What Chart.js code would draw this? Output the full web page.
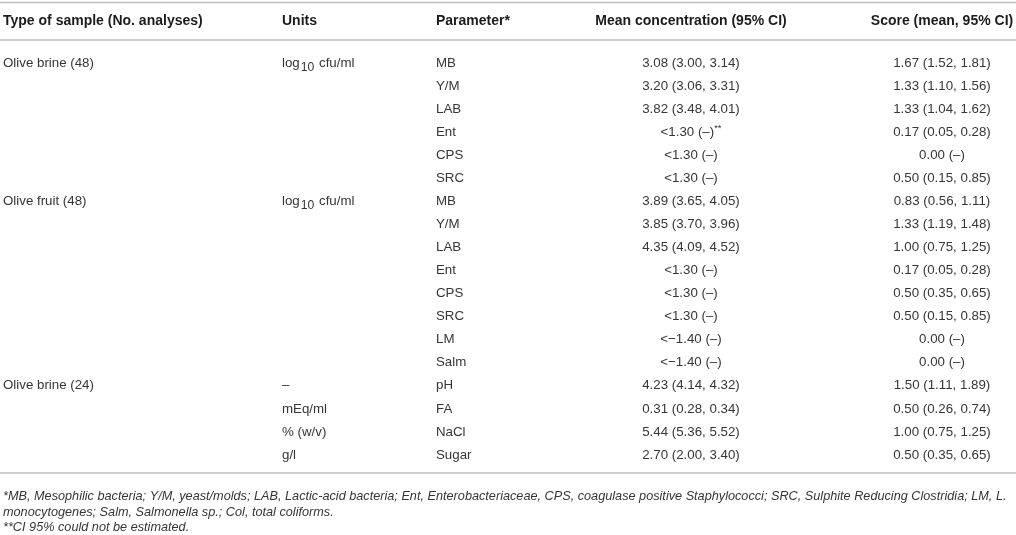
<!DOCTYPE html>
<html><head><meta charset="utf-8">
<script src="https://cdn.jsdelivr.net/npm/chart.js@4.4.0/dist/chart.umd.min.js"></script>
<style>html,body{margin:0;padding:0;background:#fff;overflow:hidden}canvas{display:block}</style>
</head><body>
<canvas id="c" width="1016" height="535" style="width:1016px;height:535px"></canvas>
<script>
// ---- DATA ----
const headers = ["Type of sample (No. analyses)", "Units", "Parameter*", "Mean concentration (95% CI)", "Score (mean, 95% CI)"];
const sampleTypes = ["Olive brine (48)", "", "", "", "", "",
  "Olive fruit (48)", "", "", "", "", "", "", "",
  "Olive brine (24)", "", "", ""];
const units = ["log_{10} cfu/ml", "", "", "", "", "",
  "log_{10} cfu/ml", "", "", "", "", "", "", "",
  "–", "mEq/ml", "% (w/v)", "g/l"];
const parameters = ["MB", "Y/M", "LAB", "Ent", "CPS", "SRC",
  "MB", "Y/M", "LAB", "Ent", "CPS", "SRC", "LM", "Salm",
  "pH", "FA", "NaCl", "Sugar"];
const meanConcentration = ["3.08 (3.00, 3.14)", "3.20 (3.06, 3.31)", "3.82 (3.48, 4.01)", "<1.30 (–)^{**}", "<1.30 (–)", "<1.30 (–)",
  "3.89 (3.65, 4.05)", "3.85 (3.70, 3.96)", "4.35 (4.09, 4.52)", "<1.30 (–)", "<1.30 (–)", "<1.30 (–)", "<−1.40 (–)", "<−1.40 (–)",
  "4.23 (4.14, 4.32)", "0.31 (0.28, 0.34)", "5.44 (5.36, 5.52)", "2.70 (2.00, 3.40)"];
const scores = ["1.67 (1.52, 1.81)", "1.33 (1.10, 1.56)", "1.33 (1.04, 1.62)", "0.17 (0.05, 0.28)", "0.00 (–)", "0.50 (0.15, 0.85)",
  "0.83 (0.56, 1.11)", "1.33 (1.19, 1.48)", "1.00 (0.75, 1.25)", "0.17 (0.05, 0.28)", "0.50 (0.35, 0.65)", "0.50 (0.15, 0.85)", "0.00 (–)", "0.00 (–)",
  "1.50 (1.11, 1.89)", "0.50 (0.26, 0.74)", "1.00 (0.75, 1.25)", "0.50 (0.35, 0.65)"];
const footnotes = [
  "*MB, Mesophilic bacteria; Y/M, yeast/molds; LAB, Lactic-acid bacteria; Ent, Enterobacteriaceae, CPS, coagulase positive Staphylococci; SRC, Sulphite Reducing Clostridia; LM, L.",
  "monocytogenes; Salm, Salmonella sp.; Col, total coliforms.",
  "**CI 95% could not be estimated."
];
const rowIds = parameters.map((p, i) => i);
const columns = [sampleTypes, units, parameters, meanConcentration, scores];

// ---- STYLE / LAYOUT ----
const FAMILY = '"Liberation Sans", Arial, Helvetica, sans-serif';
const colLayout = [
  {anchor: 3, align: 'left'},
  {anchor: 282, align: 'left'},
  {anchor: 436, align: 'left'},
  {anchor: 691, align: 'center'},
  {anchor: 942, align: 'center'}
];
const bodySize = 13.3, headSize = 14, footSize = 12.7;
const bodyColor = '#363636', headColor = '#1c1c1c', ruleColor = '#bdbdbd';

function parseRich(text) {
  const parts = [];
  const re = /(_\{[^}]*\}|\^\{[^}]*\})/g;
  let last = 0, m;
  while ((m = re.exec(text))) {
    if (m.index > last) parts.push({t: text.slice(last, m.index), k: 'n'});
    parts.push({t: m[0].slice(2, -1), k: m[0][0] === '_' ? 'sub' : 'sup'});
    last = re.lastIndex;
  }
  if (last < text.length) parts.push({t: text.slice(last), k: 'n'});
  return parts;
}
function drawRich(ctx, text, x, y, align, size, weight, style, color) {
  const parts = parseRich(text);
  const fontFor = k => {
    const s = k === 'n' ? size : (k === 'sub' ? size * 0.92 : size * 0.7);
    return `${style} ${weight} ${s}px ${FAMILY}`;
  };
  let total = 0;
  parts.forEach(p => {
    ctx.font = fontFor(p.k);
    p.w = ctx.measureText(p.t).width + (p.k === 'sub' ? 2 : 0);
    total += p.w;
  });
  let cx = align === 'center' ? x - total / 2 : (align === 'right' ? x - total : x);
  ctx.fillStyle = color;
  ctx.textAlign = 'left';
  ctx.textBaseline = 'middle';
  parts.forEach(p => {
    ctx.font = fontFor(p.k);
    const dy = p.k === 'sub' ? size * 0.32 : (p.k === 'sup' ? -size * 0.3 : 0);
    ctx.fillText(p.t, cx + (p.k === 'sub' ? 1 : 0), y + dy);
    cx += p.w;
  });
}

const tablePlugin = {
  id: 'tableText',
  afterDraw(chart) {
    const ctx = chart.ctx, xs = chart.scales.x, ys = chart.scales.y, ca = chart.chartArea;
    ctx.save();
    // rules
    ctx.strokeStyle = ruleColor; ctx.lineWidth = 1.6;
    const rule = yy => { ctx.beginPath(); ctx.moveTo(xs.getPixelForValue(0), yy); ctx.lineTo(xs.getPixelForValue(1016), yy); ctx.stroke(); };
    rule(2.5);
    rule(ca.top - 11.5);
    rule(ca.bottom + 6.5);
    // header
    const hy = ca.top - 30;
    headers.forEach((h, c) => drawRich(ctx, h, xs.getPixelForValue(colLayout[c].anchor), hy, colLayout[c].align, headSize, 'bold', 'normal', headColor));
    // body cells
    columns.forEach((col, c) => {
      col.forEach((txt, r) => {
        if (!txt) return;
        drawRich(ctx, txt, xs.getPixelForValue(colLayout[c].anchor), ys.getPixelForValue(rowIds[r]), colLayout[c].align, bodySize, 'normal', 'normal', bodyColor);
      });
    });
    // footnotes
    footnotes.forEach((f, i) => drawRich(ctx, f, xs.getPixelForValue(3), ca.bottom + 30 + i * 15.5, 'left', footSize, 'normal', 'italic', bodyColor));
    ctx.restore();
  }
};

new Chart(document.getElementById('c'), {
  type: 'scatter',
  data: { labels: rowIds, datasets: [] },
  options: {
    responsive: false,
    animation: false,
    devicePixelRatio: 1,
    layout: { padding: { top: 51.5, bottom: 68.5, left: 0, right: 0 } },
    plugins: { legend: { display: false }, tooltip: { enabled: false } },
    scales: {
      x: { type: 'linear', min: 0, max: 1016, display: false },
      y: { type: 'category', labels: rowIds, offset: true, display: false }
    }
  },
  plugins: [tablePlugin]
});
</script>
</body></html>
